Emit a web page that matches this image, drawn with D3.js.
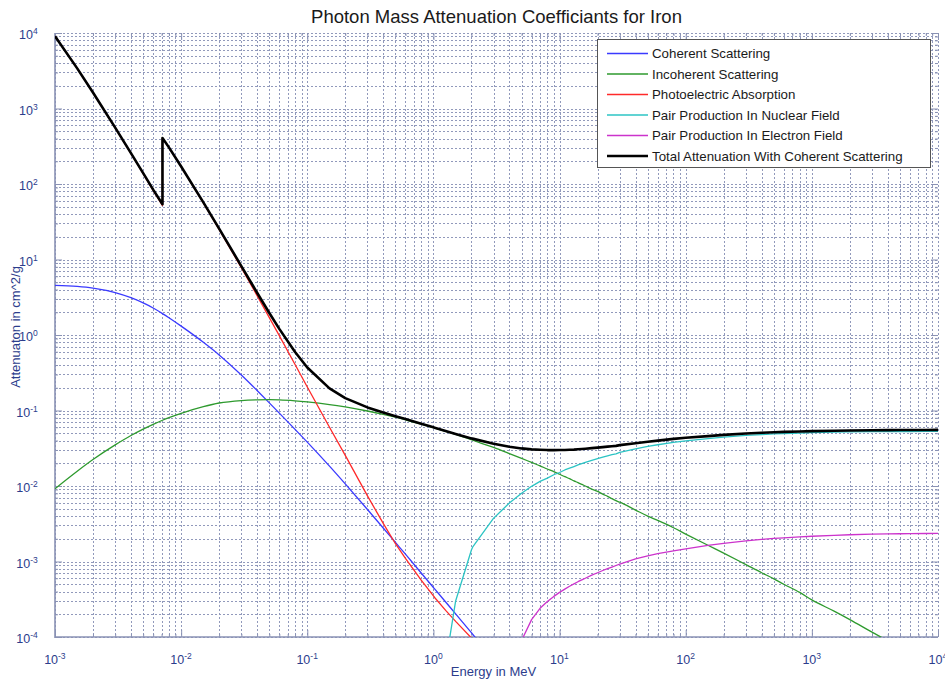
<!DOCTYPE html>
<html>
<head>
<meta charset="utf-8">
<script src="https://cdn.jsdelivr.net/npm/d3@7"></script>
<style>
  html, body { margin: 0; padding: 0; background: #fff; }
  svg { display: block; font-family: "Liberation Sans", Arial, Helvetica, sans-serif; }
</style>
</head>
<body>
<svg id="chart" width="945" height="679"></svg>
<script>
const N = null;
// Photon energy (MeV)
const energy = [
  0.001, 0.0015, 0.002, 0.003, 0.004, 0.005, 0.006, 0.007112, 0.007112, 0.008,
  0.01, 0.015, 0.02, 0.03, 0.04, 0.05, 0.06, 0.08, 0.1, 0.15,
  0.2, 0.3, 0.4, 0.5, 0.6, 0.8, 1, 1.022, 1.25, 1.5,
  2, 2.044, 3, 4, 5, 6, 7, 8, 9, 10,
  11, 12, 13, 14, 15, 16, 18, 20, 22, 24,
  26, 28, 30, 40, 50, 60, 80, 100, 150, 200,
  300, 400, 500, 600, 800, 1000, 1500, 2000, 3000, 4000,
  5000, 6000, 8000, 10000
];
const coherent = [
  4.55, 4.40, 4.18, 3.65, 3.12, 2.66, 2.28, 1.92, 1.92, 1.69,
  1.31, 0.80, 0.545, 0.295, 0.184, 0.1262, 0.0924, 0.0563, 0.0381, 0.0183,
  0.01065, 0.00488, 0.00278, 0.00179, 0.00125, 0.000705, 0.000452, 0.000433, 0.000291, 0.000202,
  0.000114, 0.000109, 0.0000506, N, N, N, N, N, N, N,
  N, N, N, N, N, N, N, N, N, N,
  N, N, N, N, N, N, N, N, N, N,
  N, N, N, N, N, N, N, N, N, N,
  N, N, N, N
];
const incoherent = [
  0.0092, 0.0157, 0.0224, 0.0350, 0.0466, 0.0567, 0.0656, 0.0743, 0.0743, 0.0804,
  0.0919, 0.1126, 0.1257, 0.1355, 0.1385, 0.1392, 0.1385, 0.1345, 0.1300, 0.1200,
  0.1115, 0.0985, 0.0890, 0.0815, 0.0752, 0.0660, 0.0592, 0.0586, 0.0530, 0.0482,
  0.0410, 0.0404, 0.0324, 0.0269, 0.0232, 0.0205, 0.0185, 0.0168, 0.0155, 0.0143,
  0.0133, 0.0125, 0.0117, 0.0111, 0.0105, 0.0100, 0.0091, 0.0085, 0.0078, 0.0073,
  0.0068, 0.0064, 0.0061, 0.0048, 0.0040, 0.0035, 0.0028, 0.00231, 0.00164, 0.00129,
  0.00091, 0.00071, 0.00059, 0.00050, 0.00039, 0.00031, 0.00022, 0.00017, 0.000116, 0.000089,
  0.000073, 0.000062, 0.000047, 0.000038
];
const photoelectric = [
  9080, 3394, 1622, 554, 253.6, 136.8, 82.0, 52.0, 405.5, 303.8,
  169.2, 56.2, 25.05, 7.79, 3.32, 1.70, 0.98, 0.407, 0.205, 0.0600,
  0.0254, 0.0074, 0.0032, 0.00172, 0.00110, 0.000567, 0.000351, 0.000334, 0.000225, 0.000161,
  0.0000972, 0.0000935, 0.0000506, N, N, N, N, N, N, N,
  N, N, N, N, N, N, N, N, N, N,
  N, N, N, N, N, N, N, N, N, N,
  N, N, N, N, N, N, N, N, N, N,
  N, N, N, N
];
const pairNuclear = [
  N, N, N, N, N, N, N, N, N, N,
  N, N, N, N, N, N, N, N, N, N,
  N, N, N, N, N, N, N, N, 0.000045, 0.00030,
  0.00142, 0.00155, 0.00375, 0.00595, 0.0080, 0.0099, 0.0115, 0.0127, 0.0141, 0.0151,
  0.0163, 0.0172, 0.0181, 0.0190, 0.0198, 0.0206, 0.0219, 0.0230, 0.0241, 0.0251,
  0.0260, 0.0267, 0.0278, 0.0310, 0.0334, 0.0352, 0.0379, 0.0397, 0.0425, 0.04445,
  0.0467, 0.0480, 0.0489, 0.0495, 0.0503, 0.0508, 0.0516, 0.0520, 0.0524, 0.0526,
  0.0527, 0.0527, 0.0528, 0.0529
];
const pairElectron = [
  N, N, N, N, N, N, N, N, N, N,
  N, N, N, N, N, N, N, N, N, N,
  N, N, N, N, N, N, N, N, N, N,
  N, N, 0.000005, 0.00003, 0.00009, 0.00017, 0.00024, 0.000295, 0.000345, 0.00039,
  0.00043, 0.00047, 0.000505, 0.00054, 0.00057, 0.0006, 0.00066, 0.00071, 0.00076, 0.000805,
  0.000845, 0.000885, 0.000925, 0.00108, 0.00119, 0.00127, 0.00138, 0.00147, 0.00163, 0.00174,
  0.00188, 0.00196, 0.00202, 0.00206, 0.00212, 0.00216, 0.00222, 0.00226, 0.0023, 0.00232,
  0.00233, 0.00234, 0.00235, 0.00236
];
const totalAtten = [
  9085, 3399, 1626, 557.6, 256.7, 139.5, 84.36, 54.04, 407.5, 305.6,
  170.6, 57.08, 25.68, 8.176, 3.629, 1.958, 1.205, 0.5952, 0.3717, 0.1964,
  0.146, 0.1099, 0.094, 0.08414, 0.07704, 0.06699, 0.05995, 0.0593, 0.0535, 0.04883,
  0.04265, 0.0424, 0.03621, 0.03312, 0.03146, 0.03057, 0.0302, 0.02991, 0.02989, 0.02994,
  0.03003, 0.03015, 0.0303, 0.0306, 0.03092, 0.0312, 0.0317, 0.03224, 0.0327, 0.0332,
  0.0336, 0.0340, 0.03478, 0.03688, 0.03857, 0.03995, 0.04204, 0.04352, 0.0458, 0.0475,
  0.0495, 0.0507, 0.0515, 0.0521, 0.0528, 0.0533, 0.0540, 0.0544, 0.0548, 0.0550,
  0.0551, 0.0551, 0.0552, 0.0553
];
const seriesNames = [
  "Coherent Scattering",
  "Incoherent Scattering",
  "Photoelectric Absorption",
  "Pair Production In Nuclear Field",
  "Pair Production In Electron Field",
  "Total Attenuation With Coherent Scattering"
];
const seriesValues = [coherent, incoherent, photoelectric, pairNuclear, pairElectron, totalAtten];
const seriesColors = ["#3a3aff", "#2e9a2e", "#ff2a2a", "#2cc4c4", "#cc33cc", "#000000"];
const seriesWidths = [1.3, 1.3, 1.3, 1.3, 1.3, 2.6];
const seriesSmooth = [true, true, false, false, false, false];
const xTickExps = [-3, -2, -1, 0, 1, 2, 3, 4];
const yTickExps = [-4, -3, -2, -1, 0, 1, 2, 3, 4];
const titleText = "Photon Mass Attenuation Coefficiants for Iron";
const xLabelText = "Energy in MeV";
const yLabelText = "Attenuaton in cm^2/g";

const W = 945, H = 679;
const margin = { left: 55, right: 7, top: 33, bottom: 42 };
const svg = d3.select("#chart");
const x = d3.scaleLog().domain([1e-3, 1e4]).range([margin.left, W - margin.right]);
const y = d3.scaleLog().domain([1e-4, 1e4]).range([H - margin.bottom, margin.top]);
const axisColor = "#8a92b4";
const gridColor = "#7e88b0";
const labelColor = "#2c3d8c";

function minorValues(exps) {
  const out = [];
  for (let i = 0; i < exps.length; i++) {
    const base = Math.pow(10, exps[i]);
    for (let m = 1; m <= 9; m++) {
      if (i === exps.length - 1 && m > 1) break;
      out.push(m * base);
    }
  }
  return out;
}
const xGridVals = minorValues(xTickExps);
const yGridVals = minorValues(yTickExps);
const xMajor = xTickExps.map(e => Math.pow(10, e));
const yMajor = yTickExps.map(e => Math.pow(10, e));

// grid
const grid = svg.append("g").attr("stroke", gridColor).attr("stroke-width", 1)
  .attr("stroke-dasharray", "2,2").attr("opacity", 0.85);
grid.selectAll("line.vx").data(xGridVals).join("line")
  .attr("x1", d => Math.round(x(d)) + 0.5).attr("x2", d => Math.round(x(d)) + 0.5)
  .attr("y1", y.range()[1]).attr("y2", y.range()[0]);
grid.selectAll("line.hy").data(yGridVals).join("line")
  .attr("y1", d => Math.round(y(d)) + 0.5).attr("y2", d => Math.round(y(d)) + 0.5)
  .attr("x1", x.range()[0]).attr("x2", x.range()[1]);

// axes (ticks inward)
function styleAxis(g) {
  g.select(".domain").remove();
  g.selectAll("line").attr("stroke", axisColor);
  g.selectAll("text").remove();
}
const yMinor = yGridVals.filter(v => !yMajor.includes(v));
const xMinor = xGridVals.filter(v => !xMajor.includes(v));
svg.append("g").attr("transform", `translate(${x.range()[0]},0)`)
  .call(d3.axisLeft(y).tickValues(yMajor).tickSize(-7)).call(styleAxis);
svg.append("g").attr("transform", `translate(${x.range()[0]},0)`)
  .call(d3.axisLeft(y).tickValues(yMinor).tickSize(-3)).call(styleAxis);
svg.append("g").attr("transform", `translate(${x.range()[1]},0)`)
  .call(d3.axisRight(y).tickValues(yMajor).tickSize(-7)).call(styleAxis);
svg.append("g").attr("transform", `translate(${x.range()[1]},0)`)
  .call(d3.axisRight(y).tickValues(yMinor).tickSize(-3)).call(styleAxis);
svg.append("g").attr("transform", `translate(0,${y.range()[0]})`)
  .call(d3.axisBottom(x).tickValues(xMajor).tickSize(-7)).call(styleAxis);
svg.append("g").attr("transform", `translate(0,${y.range()[0]})`)
  .call(d3.axisBottom(x).tickValues(xMinor).tickSize(-3)).call(styleAxis);
svg.append("g").attr("transform", `translate(0,${y.range()[1]})`)
  .call(d3.axisTop(x).tickValues(xMajor).tickSize(-7)).call(styleAxis);
svg.append("g").attr("transform", `translate(0,${y.range()[1]})`)
  .call(d3.axisTop(x).tickValues(xMinor).tickSize(-3)).call(styleAxis);

// axis lines
svg.append("line").attr("x1", x.range()[0]).attr("x2", x.range()[0])
  .attr("y1", y.range()[1]).attr("y2", y.range()[0] + 1)
  .attr("stroke", axisColor).attr("stroke-width", 1.6);
svg.append("line").attr("x1", x.range()[0]).attr("x2", x.range()[1])
  .attr("y1", y.range()[0]).attr("y2", y.range()[0])
  .attr("stroke", axisColor).attr("stroke-width", 1.6);

// tick labels
function powLabel(sel, exp) {
  sel.append("tspan").text("10");
  sel.append("tspan").attr("dy", "-0.55em").attr("font-size", "8.5px").text(String(exp));
}
xTickExps.forEach(e => {
  const t = svg.append("text").attr("x", 0).attr("y", 664)
    .attr("font-size", "12.5px").attr("fill", labelColor);
  powLabel(t, e);
  const bb = t.node().getBBox();
  t.attr("x", x(Math.pow(10, e)) - bb.width / 2);
});
yTickExps.forEach(e => {
  const t = svg.append("text").attr("x", 0).attr("y", y(Math.pow(10, e)) + 6)
    .attr("font-size", "12.5px").attr("fill", labelColor);
  powLabel(t, e);
  const bb = t.node().getBBox();
  t.attr("x", 38 - bb.width);
});

// axis titles
svg.append("text").attr("x", (x.range()[0] + x.range()[1]) / 2 - 3).attr("y", 676)
  .attr("text-anchor", "middle").attr("font-size", "13px").attr("fill", labelColor).text(xLabelText);
svg.append("text").attr("transform", `translate(20,${(y.range()[0] + y.range()[1]) / 2 - 8}) rotate(-90)`)
  .attr("text-anchor", "middle").attr("font-size", "13px").attr("fill", labelColor).text(yLabelText);
svg.append("text").attr("x", (x.range()[0] + x.range()[1]) / 2).attr("y", 23)
  .attr("text-anchor", "middle").attr("font-size", "18.5px").attr("fill", "#1a1a1a").text(titleText);

// clip
svg.append("clipPath").attr("id", "plotclip").append("rect")
  .attr("x", x.range()[0]).attr("y", y.range()[1])
  .attr("width", x.range()[1] - x.range()[0]).attr("height", y.range()[0] - y.range()[1]);

const plot = svg.append("g").attr("clip-path", "url(#plotclip)");
seriesValues.forEach((vals, i) => {
  let data = energy.map((e, k) => ({ e, v: vals[k] }));
  const line = d3.line()
    .defined(d => d.v != null && d.v > 0)
    .x(d => x(d.e)).y(d => y(d.v))
    .curve(seriesSmooth[i] ? d3.curveMonotoneX : d3.curveLinear);
  if (seriesSmooth[i]) {
    data = data.filter((d, k) => k === 0 || d.e !== energy[k - 1]);
  }
  plot.append("path").datum(data).attr("d", line)
    .attr("fill", "none").attr("stroke", seriesColors[i])
    .attr("stroke-width", seriesWidths[i]).attr("stroke-linejoin", "round");
});

// legend
const lg = svg.append("g");
lg.append("rect").attr("x", 597.5).attr("y", 39.5).attr("width", 333).attr("height", 128)
  .attr("fill", "#fff").attr("stroke", "#555").attr("stroke-width", 1);
seriesNames.forEach((name, i) => {
  const yy = 53.5 + i * 20.5;
  lg.append("line").attr("x1", 607).attr("x2", 648).attr("y1", yy).attr("y2", yy)
    .attr("stroke", seriesColors[i]).attr("stroke-width", seriesWidths[i]);
  lg.append("text").attr("x", 652).attr("y", yy + 4.5).attr("font-size", "13.3px")
    .attr("fill", "#1a1a1a").text(name);
});
</script>
</body>
</html>
